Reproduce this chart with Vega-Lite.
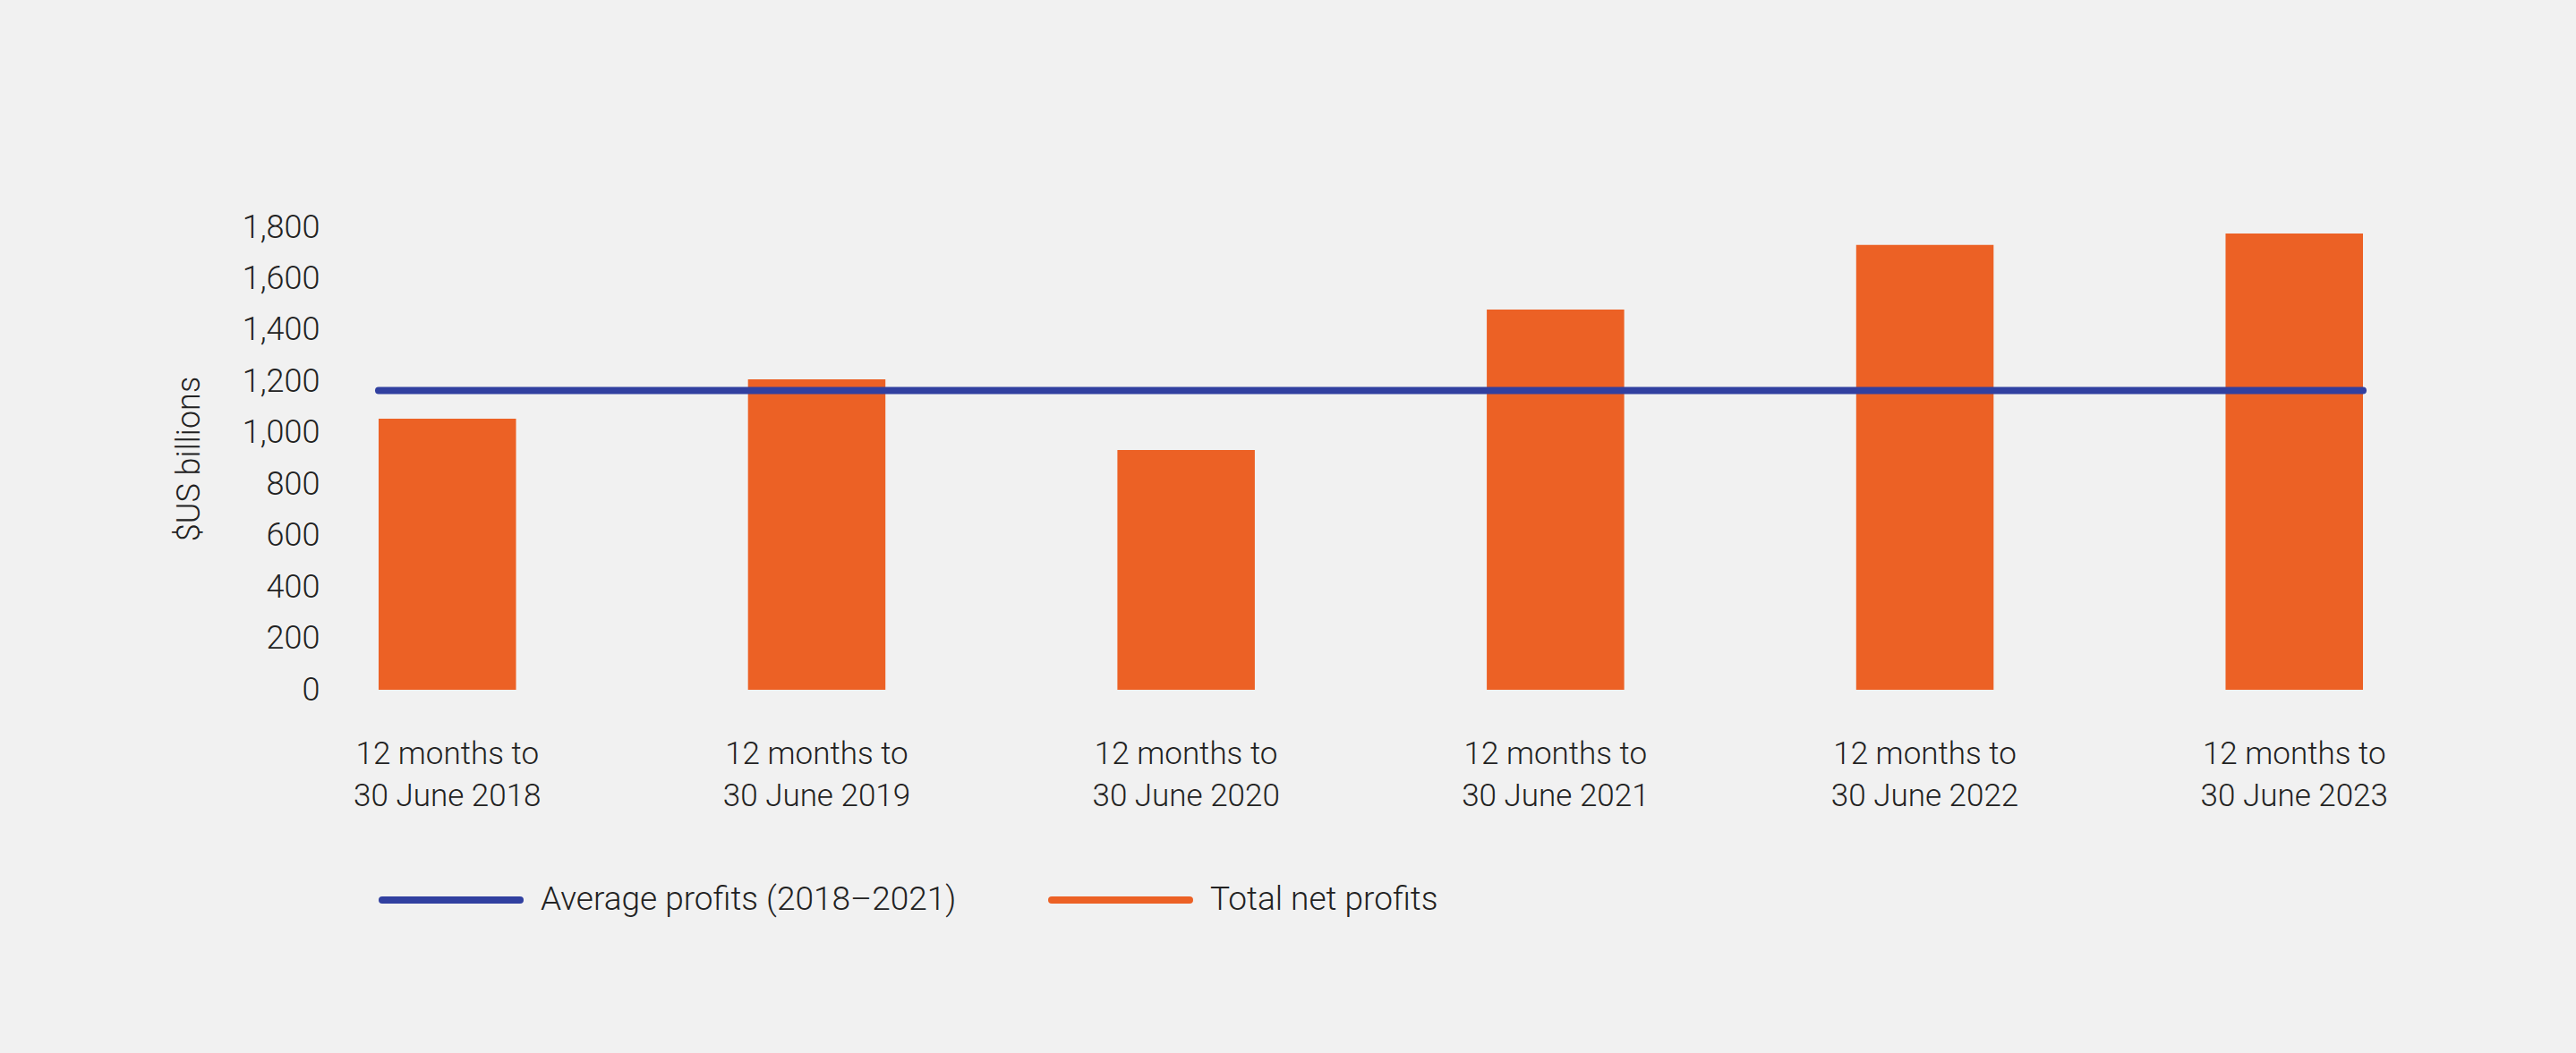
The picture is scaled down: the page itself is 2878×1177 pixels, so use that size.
{
  "$schema": "https://vega.github.io/schema/vega-lite/v6.json",
  "width": 2217,
  "height": 517,
  "autosize": {"type": "none"},
  "padding": {"left": 423, "top": 254, "right": 238, "bottom": 406},
  "background": "#f1f1f1",
  "config": {
    "view": {"stroke": null},
    "font": "Roboto",
    "axis": {"labelFont": "Roboto", "titleFont": "Roboto", "labelColor": "#222222", "titleColor": "#222222", "labelFontWeight": 300, "titleFontWeight": 300, "labelLimit": 0},
    "legend": {"labelFont": "Roboto", "labelColor": "#222222", "labelFontWeight": 300, "labelLimit": 0}
  },
  "layer": [
    {
      "data": {"values": [
        {"period": "12 months to 30 June 2018", "series": "Total net profits", "value": 1055},
        {"period": "12 months to 30 June 2019", "series": "Total net profits", "value": 1208},
        {"period": "12 months to 30 June 2020", "series": "Total net profits", "value": 933},
        {"period": "12 months to 30 June 2021", "series": "Total net profits", "value": 1480},
        {"period": "12 months to 30 June 2022", "series": "Total net profits", "value": 1731},
        {"period": "12 months to 30 June 2023", "series": "Total net profits", "value": 1776}
      ]},
      "mark": {"type": "bar"},
      "encoding": {
        "x": {
          "field": "period", "type": "nominal", "sort": null,
          "scale": {"paddingInner": 0.628, "paddingOuter": 0},
          "axis": {
            "title": null, "domain": false, "ticks": false, "tickSize": 0,
            "labelAngle": 0, "labelFontSize": 35, "labelPadding": 54,
            "labelLineHeight": 47, "labelBaseline": "top", "labelLimit": 0,
            "labelExpr": "[slice(datum.label,0,12), slice(datum.label,13)]"
          }
        },
        "y": {
          "field": "value", "type": "quantitative",
          "scale": {"domain": [0, 1800]},
          "axis": {
            "title": "$US billions", "titleFontSize": 36, "titlePadding": 40,
            "values": [0,200,400,600,800,1000,1200,1400,1600,1800],
            "format": ",d", "grid": false, "domain": false, "ticks": false, "tickSize": 0,
            "labelFontSize": 36, "labelPadding": 66
          }
        },
        "color": {
          "field": "series", "type": "nominal",
          "scale": {"domain": ["Average profits (2018–2021)", "Total net profits"], "range": ["#3140a0", "#ec6125"]},
          "legend": {
            "title": null, "orient": "none", "direction": "horizontal",
            "legendX": 0, "legendY": 671,
            "symbolType": "stroke", "symbolSize": 23716, "symbolStrokeWidth": 8,
            "labelFontSize": 37, "labelOffset": 19, "columnPadding": 90, "labelLimit": 0,
            "encode": {"symbols": {"update": {"stroke": {"scale": "color", "field": "value"}, "strokeCap": {"value": "round"}}}}
          }
        }
      }
    },
    {
      "data": {"values": [{"series": "Average profits (2018–2021)", "value": 1165}]},
      "mark": {"type": "rule", "strokeWidth": 8, "strokeCap": "round"},
      "encoding": {
        "y": {"field": "value", "type": "quantitative"},
        "color": {"field": "series", "type": "nominal"}
      }
    }
  ]
}
